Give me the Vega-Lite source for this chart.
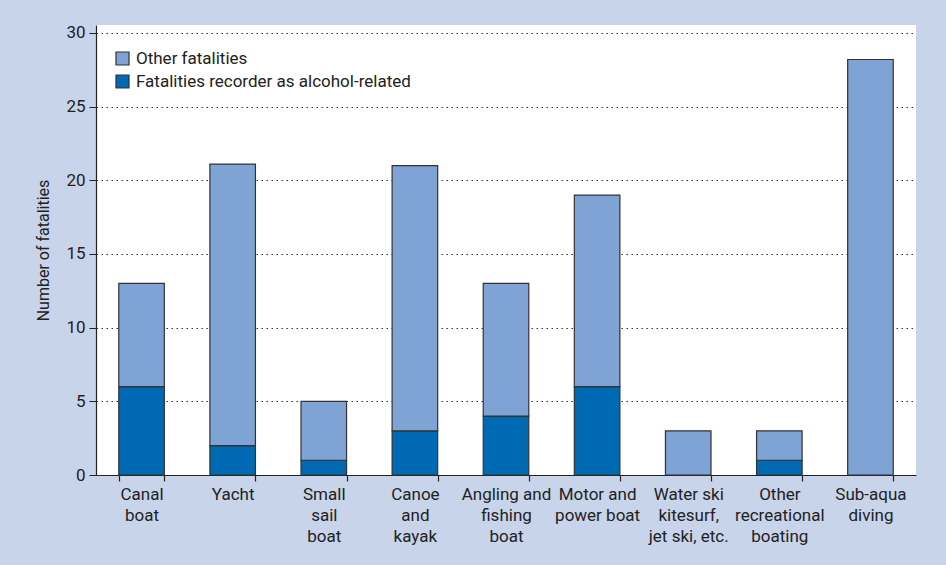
{
  "$schema": "https://vega.github.io/schema/vega-lite/v6.json",
  "width": 820,
  "height": 450,
  "autosize": {"type": "none"},
  "padding": {"left": 96, "top": 25, "right": 30, "bottom": 90},
  "background": "#c8d4ea",
  "config": {
    "view": {"fill": "white", "stroke": null},
    "font": "Roboto",
    "axis": {"labelFont": "Roboto", "titleFont": "Roboto", "labelColor": "#222", "titleColor": "#222"}
  },
  "data": {
    "values": [
      {"category": "Canal\nboat", "type": "Fatalities recorder as alcohol-related", "value": 6, "ord": 1},
      {"category": "Canal\nboat", "type": "Other fatalities", "value": 7, "ord": 2},
      {"category": "Yacht", "type": "Fatalities recorder as alcohol-related", "value": 2, "ord": 1},
      {"category": "Yacht", "type": "Other fatalities", "value": 19.1, "ord": 2},
      {"category": "Small\nsail\nboat", "type": "Fatalities recorder as alcohol-related", "value": 1, "ord": 1},
      {"category": "Small\nsail\nboat", "type": "Other fatalities", "value": 4, "ord": 2},
      {"category": "Canoe\nand\nkayak", "type": "Fatalities recorder as alcohol-related", "value": 3, "ord": 1},
      {"category": "Canoe\nand\nkayak", "type": "Other fatalities", "value": 18, "ord": 2},
      {"category": "Angling and\nfishing\nboat", "type": "Fatalities recorder as alcohol-related", "value": 4, "ord": 1},
      {"category": "Angling and\nfishing\nboat", "type": "Other fatalities", "value": 9, "ord": 2},
      {"category": "Motor and\npower boat", "type": "Fatalities recorder as alcohol-related", "value": 6, "ord": 1},
      {"category": "Motor and\npower boat", "type": "Other fatalities", "value": 13, "ord": 2},
      {"category": "Water ski\nkitesurf,\njet ski, etc.", "type": "Other fatalities", "value": 3, "ord": 2},
      {"category": "Other\nrecreational\nboating", "type": "Fatalities recorder as alcohol-related", "value": 1, "ord": 1},
      {"category": "Other\nrecreational\nboating", "type": "Other fatalities", "value": 2, "ord": 2},
      {"category": "Sub-aqua\ndiving", "type": "Other fatalities", "value": 28.2, "ord": 2}
    ]
  },
  "mark": {"type": "bar", "stroke": "#333", "strokeWidth": 1.2},
  "encoding": {
    "x": {
      "field": "category",
      "type": "nominal",
      "sort": null,
      "scale": {"paddingInner": 0.5, "paddingOuter": 0.25},
      "axis": {
        "title": null,
        "labelAngle": 0,
        "labelExpr": "split(datum.label, '\\n')",
        "labelFontSize": 17,
        "labelLineHeight": 21,
        "labelPadding": 5,
        "labelBaseline": "top",
        "tickBand": "extent",
        "tickSize": 6,
        "tickColor": "#222",
        "tickWidth": 1.2,
        "domainColor": "#222",
        "domainWidth": 1.2,
        "labelLimit": 200
      }
    },
    "y": {
      "field": "value",
      "type": "quantitative",
      "aggregate": "sum",
      "stack": "zero",
      "scale": {"domain": [0, 30.54], "nice": false},
      "axis": {
        "title": "Number of fatalities",
        "titleFontSize": 16,
        "titleFontWeight": "normal",
        "titlePadding": 14,
        "values": [0, 5, 10, 15, 20, 25, 30],
        "labelFontSize": 17,
        "labelPadding": 4,
        "tickSize": 7,
        "tickColor": "#222",
        "domainColor": "#222",
        "domainWidth": 1.2,
        "grid": true,
        "gridColor": "#333",
        "gridDash": [1.5, 3.5],
        "gridWidth": 1
      }
    },
    "color": {
      "field": "type",
      "type": "nominal",
      "scale": {
        "domain": ["Other fatalities", "Fatalities recorder as alcohol-related"],
        "range": ["#7ea3d4", "#0069b4"]
      },
      "legend": {
        "title": null,
        "orient": "none",
        "legendX": 18,
        "legendY": 25,
        "symbolType": "square",
        "symbolSize": 170,
        "symbolStrokeColor": "#333",
        "symbolStrokeWidth": 1.2,
        "labelFontSize": 17,
        "labelColor": "#222",
        "labelOffset": 5,
        "labelLimit": 400,
        "rowPadding": 4,
        "labelFont": "Roboto"
      }
    },
    "order": {"field": "ord", "type": "quantitative"}
  }
}
